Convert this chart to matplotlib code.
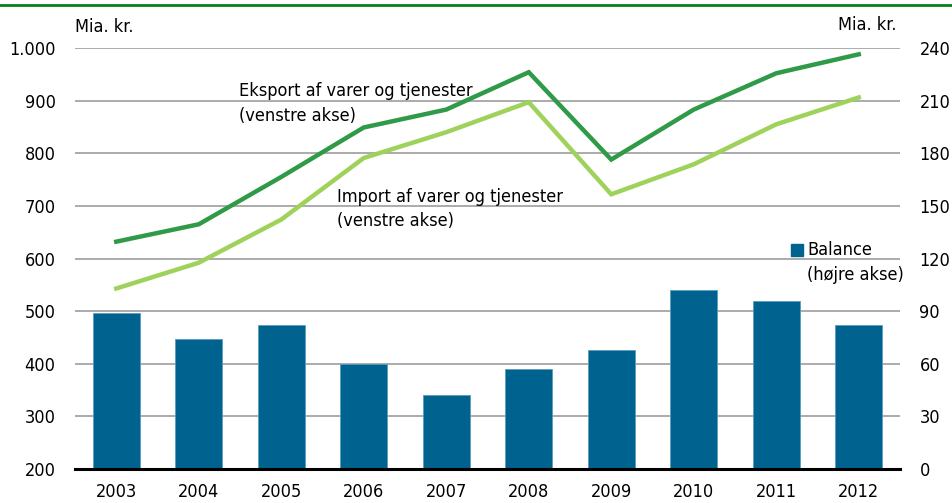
import matplotlib
matplotlib.use("Agg")
import matplotlib.pyplot as plt
from matplotlib import font_manager as fm

years = ["2003", "2004", "2005", "2006", "2007", "2008", "2009", "2010", "2011", "2012"]
eksport = [632, 665, 755, 849, 883, 954, 788, 883, 952, 988]
import_ = [543, 592, 674, 791, 840, 897, 722, 779, 855, 906]
balance = [89, 74, 82, 60, 42, 57, 68, 102, 96, 82]

left_ticks = [200, 300, 400, 500, 600, 700, 800, 900, 1000]
left_labels = ["200", "300", "400", "500", "600", "700", "800", "900", "1.000"]
right_ticks = [0, 30, 60, 90, 120, 150, 180, 210, 240]

cond = [f for f in fm.fontManager.ttflist if f.name == "DejaVu Sans" and "ondensed" in f.fname
        and "Bold" not in f.fname and "Oblique" not in f.fname]
if cond:
    fprop = fm.FontProperties(fname=cond[0].fname)
    plt.rcParams['font.family'] = ['DejaVu Sans']
    plt.rcParams['font.stretch'] = 'condensed'
    FP = dict(fontproperties=fprop)
else:
    FP = dict(family=['Liberation Sans', 'DejaVu Sans'])
FS = 13

fig = plt.figure(figsize=(9.52, 5.03), dpi=100)
W, H = 952, 503
x0, x1, ytop, ybot = 75, 900, 48, 469
ax = fig.add_axes([x0 / W, 1 - ybot / H, (x1 - x0) / W, (ybot - ytop) / H])
ax2 = ax.twinx()

x = list(range(len(years)))
ax2.bar(x, balance, width=0.57, color="#00628f", edgecolor="#5a9cc0", linewidth=0.6, zorder=2)
ax2.set_ylim(0, 240)
ax2.set_yticks(right_ticks)
ax2.set_yticklabels([str(t) for t in right_ticks])

ax.set_ylim(200, 1000)
ax.set_xlim(-0.5, len(years) - 0.5)
ax.set_yticks(left_ticks)
ax.set_yticklabels(left_labels)
ax.set_xticks(x)
ax.set_xticklabels(years)

for lab in ax.get_xticklabels() + ax.get_yticklabels() + ax2.get_yticklabels():
    if 'fontproperties' in FP:
        lab.set_fontproperties(FP['fontproperties'])
    else:
        lab.set_family(FP['family'])
    lab.set_fontsize(FS)

for t in left_ticks[1:]:
    ax2.axhline((t - 200) * 240 / 800, color="#ababab", lw=1.4, zorder=0)

ax.set_zorder(ax2.get_zorder() + 1)
ax.patch.set_visible(False)
ax.plot(x, eksport, color="#2f9a47", lw=3.2, solid_joinstyle="miter", zorder=3)
ax.plot(x, import_, color="#9fd25a", lw=3.2, solid_joinstyle="miter", zorder=3)

for a in (ax, ax2):
    for s in a.spines.values():
        s.set_visible(False)
    a.tick_params(length=0)
ax.tick_params(axis="y", pad=14)
ax2.tick_params(axis="y", pad=14)
ax.tick_params(axis="x", pad=10)
ax.axhline(200, color="black", lw=2.2, zorder=4, clip_on=False)


def txt(px, py, s, ha="left"):
    fig.text(px / W, 1 - py / H, s, fontsize=FS, ha=ha, va="center", **FP)


txt(x0, 27, "Mia. kr.")
txt(897, 25, "Mia. kr.", ha="right")
txt(239, 91, "Eksport af varer og tjenester")
txt(239, 116, "(venstre akse)")
txt(337, 197, "Import af varer og tjenester")
txt(337, 221, "(venstre akse)")
txt(807, 250, "Balance")
txt(807, 275, "(højre akse)")

fig.patches.append(plt.Rectangle((791 / W, 1 - 256 / H), 12 / W, 12 / H, transform=fig.transFigure,
                                 color="#00628f", figure=fig))
fig.add_artist(plt.Line2D([0, 1], [1 - 4.5 / H, 1 - 4.5 / H], transform=fig.transFigure, color="#0a7d1e", lw=2))

fig.savefig("out.png", dpi=100)
